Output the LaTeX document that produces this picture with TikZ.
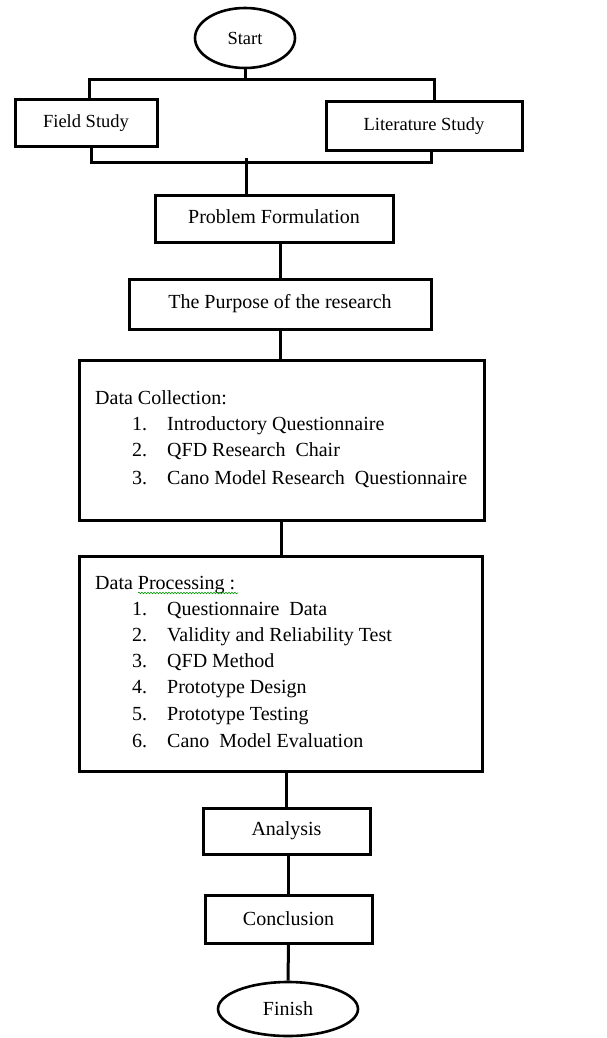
\documentclass[tikz,border=0pt]{standalone}
\usepackage{fontspec}
\setmainfont{Liberation Serif}
\usetikzlibrary{shapes.geometric,decorations.pathmorphing}
\begin{document}
\begin{tikzpicture}[x=1pt,y=-1pt,
  box/.style={draw,line width=3pt,inner sep=0pt,align=center},
  ovalnode/.style={draw,ellipse,line width=2.6pt,inner sep=0pt},
  conn/.style={line width=3pt},
  topfont/.style={font=\fontsize{18.5}{22}\selectfont},
  mainfont/.style={font=\fontsize{20}{24}\selectfont},
  lbl/.style={inner sep=0pt,anchor=base west,mainfont},
  squiggle/.style={draw=green!60!black,line width=0.6pt,decorate,decoration={snake,amplitude=0.8pt,segment length=3pt}}]
\useasboundingbox (0,0) rectangle (607,1038);

% nodes
\node[ovalnode,topfont,minimum width=100pt,minimum height=60pt] (start) at (245,38) {Start};
\node[box,topfont,minimum width=142pt,minimum height=46pt] (field) at (86,123) {Field Study};
\node[box,topfont,minimum width=196pt,minimum height=48pt] (lit) at (424,126) {Literature Study};
\node[box,mainfont,minimum width=238pt,minimum height=47pt] (prob) at (274,218.5) {\raisebox{3pt}{Problem Formulation}};
\node[box,mainfont,minimum width=302pt,minimum height=50pt] (purp) at (280,304) {\raisebox{6pt}{The Purpose of the research}};
\node[box,minimum width=405pt,minimum height=160pt] (dc) at (281.5,440) {};
\node[box,minimum width=403pt,minimum height=215pt] (dp) at (280.5,663.5) {};
\node[box,mainfont,minimum width=167pt,minimum height=46pt] (ana) at (286.5,831) {\raisebox{2pt}{Analysis}};
\node[box,mainfont,minimum width=167pt,minimum height=48pt] (conc) at (288.5,919) {Conclusion};
\node[ovalnode,mainfont,minimum width=140pt,minimum height=54pt] (fin) at (288,1009) {Finish};

% data collection text
\node[lbl] (dct) at (95,404.5) {Data Collection:};
\node[lbl] (dcn1) at (132,430.5) {1.};
\node[lbl] (dci1) at (167,430.5) {Introductory Questionnaire};
\node[lbl] (dcn2) at (132,456.5) {2.};
\node[lbl] (dci2) at (167,456.5) {QFD Research\ \ Chair};
\node[lbl] (dcn3) at (132,484.5) {3.};
\node[lbl] (dci3) at (167,484.5) {Cano Model Research\ \ Questionnaire};

% data processing text
\node[lbl] (dpt) at (95,589.5) {Data Processing :};
\node[lbl] (dpn1) at (132,615.5) {1.};
\node[lbl] (dpi1) at (167,615.5) {Questionnaire\ \ Data};
\node[lbl] (dpn2) at (132,641.5) {2.};
\node[lbl] (dpi2) at (167,641.5) {Validity and Reliability Test};
\node[lbl] (dpn3) at (132,667.5) {3.};
\node[lbl] (dpi3) at (167,667.5) {QFD Method};
\node[lbl] (dpn4) at (132,693.5) {4.};
\node[lbl] (dpi4) at (167,693.5) {Prototype Design};
\node[lbl] (dpn5) at (132,720.5) {5.};
\node[lbl] (dpi5) at (167,720.5) {Prototype Testing};
\node[lbl] (dpn6) at (132,747.5) {6.};
\node[lbl] (dpi6) at (167,747.5) {Cano\ \ Model Evaluation};
\draw[squiggle] (138,593) -- (238,593);

% connectors
\coordinate (jL) at (89,80);
\coordinate (jR) at (434,80);
\coordinate (kL) at (91,162);
\coordinate (kR) at (431,162);
\coordinate (kM) at (246,162);
\draw[conn] (start.south) -- (start.south |- jL);
\draw[conn] (jL |- field.north) -- (jL) -- (jR) -- (jR |- lit.north);
\draw[conn] (kL |- field.south) -- (kL) -- (kR) -- (kR |- lit.south);
\draw[conn] (246,158) -- (kM) -- (kM |- prob.north);
\draw[conn] (purp.north |- prob.south) -- (purp.north);
\draw[conn] (purp.south) -- (purp.south |- dc.north);
\draw[conn] (dc.south) -- (dc.south |- dp.north);
\draw[conn] (ana.north |- dp.south) -- (ana.north);
\draw[conn] (conc.north |- ana.south) -- (conc.north);
\draw[conn] (conc.south) -- (fin.north);
\end{tikzpicture}
\end{document}
